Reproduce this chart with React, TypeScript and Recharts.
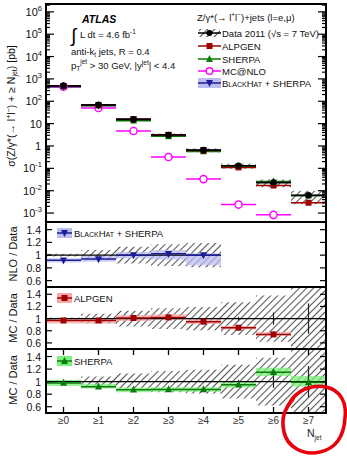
import React from 'react';
import { ComposedChart, Scatter, XAxis, YAxis, ErrorBar, ReferenceArea } from 'recharts';

const FONT = '"Liberation Sans", Arial, Helvetica, sans-serif';
const W = 347;
const H = 456;
const PL = 46;
const PR = 326;

// jet multiplicity bins
const NJET = [0, 1, 2, 3, 4, 5, 6, 7];
const NJET_LABELS = ['≥0', '≥1', '≥2', '≥3', '≥4', '≥5', '≥6', '≥7'];

// cross sections [pb]
const DATA_XS = [490, 69, 15.5, 3.1, 0.65, 0.13, 0.023, 0.0062];
const DATA_SYST = [0.02, 0.08, 0.13, 0.17, 0.19, 0.27, 0.38, 0.6];
const DATA_STAT = [0, 0, 0, 0, 0.01, 0.03, 0.1, 0.25];
const ALPGEN_XS = [475, 67, 15.6, 3.15, 0.62, 0.11, 0.017, 0.0029];
const SHERPA_XS = [480, 63, 13.5, 2.7, 0.57, 0.124, 0.026, 0.0061];
const MCNLO_XS = [450, 50, 4.7, 0.32, 0.033, 0.0024, 0.00083, null];
const MCNLO_ERR = [0, 0, 0, 0, 0, 0.0009, 0.0003, null];
const BLACKHAT_XS = [450, 65, 15.5, 3.15, 0.65, null, null, null];

// theory / data
const BLACKHAT_RATIO = [0.92, 0.94, 1.0, 1.02, 1.0];
const BLACKHAT_LO = [0.885, 0.895, 0.95, 0.93, 0.84];
const BLACKHAT_HI = [0.95, 0.985, 1.05, 1.08, 1.035];
const ALPGEN_RATIO = [0.97, 0.97, 1.01, 1.02, 0.95, 0.85, 0.74];
const ALPGEN_LO = [0.92, 0.92, 0.96, 0.98, 0.91, 0.82, 0.72];
const ALPGEN_HI = [1.01, 1.0, 1.06, 1.07, 0.99, 0.88, 0.78];
const SHERPA_RATIO = [0.98, 0.92, 0.87, 0.875, 0.875, 0.95, 1.15, 0.99];
const SHERPA_LO = [0.93, 0.89, 0.83, 0.84, 0.84, 0.905, 1.09, 0.92];
const SHERPA_HI = [1.03, 0.965, 0.905, 0.91, 0.91, 0.99, 1.22, 1.09];

const DECADES = [-3, -2, -1, 0, 1, 2, 3, 4, 5, 6];
const MINORS = [1, 2, 3, 4, 5, 6, 7, 8, 9];
const LOG_MIN = Math.pow(10, -3.4);
const LOG_MAX = Math.pow(10, 6.35);
const LOG_TICKS = DECADES.flatMap((d) => MINORS.map((m) => m * Math.pow(10, d))).filter((v) => v >= LOG_MIN && v <= LOG_MAX);
const RATIO_TICKS = [0.6, 0.8, 1, 1.2, 1.4];
const RATIO_DOMAIN = [0.5, 1.52];

const C_ALPGEN = '#a00000';
const C_ALPGEN_BAND = '#f6a8a8';
const C_SHERPA = '#0a7a0a';
const C_SHERPA_BAND = '#7cf07c';
const C_BH = '#1c1c96';
const C_BH_BAND = '#bcbcf2';
const C_MCNLO = '#ff00ff';

const PANELS = [
  { top: 222, bottom: 287 },
  { top: 287, bottom: 349 },
  { top: 349, bottom: 413 },
];

const pts = (ys: (number | null)[], ey?: (number | null)[]) =>
  NJET.map((x, i) => ({ x, y: ys[i], ex: 0.5, ey: ey ? ey[i] ?? 0 : 0 })).filter((p) => p.y != null);

const dot = (r: number, fill: string) => (p: any) => <circle cx={p.cx} cy={p.cy} r={r} fill={fill} />;
const openDot = (r: number, stroke: string) => (p: any) => (
  <circle cx={p.cx} cy={p.cy} r={r} fill="#fff" stroke={stroke} strokeWidth={1.4} />
);
const square = (s: number, fill: string) => (p: any) => (
  <rect x={p.cx - s / 2} y={p.cy - s / 2} width={s} height={s} fill={fill} />
);
const triUp = (s: number, fill: string) => (p: any) => (
  <polygon points={`${p.cx},${p.cy - s * 0.6} ${p.cx - s / 2},${p.cy + s * 0.4} ${p.cx + s / 2},${p.cy + s * 0.4}`} fill={fill} />
);
const triDown = (s: number, fill: string) => (p: any) => (
  <polygon points={`${p.cx},${p.cy + s * 0.6} ${p.cx - s / 2},${p.cy - s * 0.4} ${p.cx + s / 2},${p.cy - s * 0.4}`} fill={fill} />
);
const noShape = () => <g />;

const xTick = (plotTop: number, labels: boolean) => (p: any) => (
  <g>
    <line x1={p.x} x2={p.x} y1={p.y} y2={p.y - 6} stroke="#000" strokeWidth={1.3} />
    <line x1={p.x} x2={p.x} y1={plotTop} y2={plotTop + 6} stroke="#000" strokeWidth={1.3} />
    {labels && (
      <text x={p.x} y={p.y + 11} textAnchor="middle" fontSize={10} fill="#333" fontFamily={FONT}>
        {NJET_LABELS[p.payload.value]}
      </text>
    )}
  </g>
);

const logTick = (p: any) => {
  const v = p.payload.value;
  const e = Math.round(Math.log10(v));
  const major = Math.abs(Math.log10(v) - e) < 1e-6;
  const len = major ? 8 : 4;
  return (
    <g>
      <line x1={p.x} x2={p.x + len} y1={p.y} y2={p.y} stroke="#000" strokeWidth={1.2} />
      <line x1={PR} x2={PR - len} y1={p.y} y2={p.y} stroke="#000" strokeWidth={1.2} />
      {major && (
        <text x={e === 0 ? p.x - 5 : p.x - 4} y={p.y + 4} textAnchor="end" fontSize={11} fontFamily={FONT} fill="#111">
          {e === 0 ? '1' : '10'}
          {e !== 0 && e !== 1 && (
            <tspan dy={-5} fontSize={7.5}>{e}</tspan>
          )}
        </text>
      )}
    </g>
  );
};

const ratioTick = (p: any) => (
  <g>
    <line x1={p.x} x2={p.x + 6} y1={p.y} y2={p.y} stroke="#000" strokeWidth={1.2} />
    <line x1={PR} x2={PR - 6} y1={p.y} y2={p.y} stroke="#000" strokeWidth={1.2} />
    <text x={p.x - 5} y={p.y + 4} textAnchor="end" fontSize={10.5} fontFamily={FONT} fill="#111">
      {p.payload.value === 1 ? '1' : p.payload.value.toFixed(1)}
    </text>
  </g>
);

function MainPanel() {
  return (
    <div style={{ position: 'absolute', left: 0, top: 0 }}>
      <ComposedChart width={W} height={222} margin={{ top: 4, right: W - PR, bottom: 0, left: 0 }}>
        <XAxis type="number" dataKey="x" domain={[-0.5, 7.5]} ticks={NJET} allowDataOverflow height={0}
          axisLine={false} tickLine={false} tickSize={0} tickMargin={0} interval={0} tick={xTick(4, false)} />
        <YAxis type="number" scale="log" domain={[LOG_MIN, LOG_MAX]} allowDataOverflow ticks={LOG_TICKS} width={PL}
          axisLine={false} tickLine={false} tickSize={0} tickMargin={0} interval={0} tick={logTick} />
        {DATA_XS.map((v, i) => (
          <ReferenceArea key={i} x1={NJET[i] - 0.5} x2={NJET[i] + 0.5} y1={v * (1 - DATA_SYST[i])} y2={v * (1 + DATA_SYST[i])}
            fill="url(#hatch)" fillOpacity={1} stroke="none" ifOverflow="hidden" />
        ))}
        <Scatter data={pts(MCNLO_XS, MCNLO_ERR)} dataKey="y" shape={openDot(3.6, C_MCNLO)} isAnimationActive={false}>
          <ErrorBar dataKey="ex" direction="x" width={0} stroke={C_MCNLO} strokeWidth={1.5} />
          <ErrorBar dataKey="ey" direction="y" width={0} stroke={C_MCNLO} strokeWidth={1.5} />
        </Scatter>
        <Scatter data={pts(BLACKHAT_XS)} dataKey="y" shape={triDown(7, C_BH)} isAnimationActive={false}>
          <ErrorBar dataKey="ex" direction="x" width={0} stroke={C_BH} strokeWidth={1.5} />
        </Scatter>
        <Scatter data={pts(SHERPA_XS)} dataKey="y" shape={triUp(7, C_SHERPA)} isAnimationActive={false}>
          <ErrorBar dataKey="ex" direction="x" width={0} stroke={C_SHERPA} strokeWidth={1.5} />
        </Scatter>
        <Scatter data={pts(ALPGEN_XS)} dataKey="y" shape={square(6, C_ALPGEN)} isAnimationActive={false}>
          <ErrorBar dataKey="ex" direction="x" width={0} stroke={C_ALPGEN} strokeWidth={1.5} />
        </Scatter>
        <Scatter data={pts(DATA_XS)} dataKey="y" shape={dot(3.3, '#000')} isAnimationActive={false}>
          <ErrorBar dataKey="ex" direction="x" width={0} stroke="#000" strokeWidth={1.6} />
        </Scatter>
      </ComposedChart>
    </div>
  );
}

function RatioPanel({ top, bottom, ratio, lo, hi, band, color, shape, nData, stat, labels }: any) {
  const axisH = labels ? H - bottom : 0;
  const dataLine = NJET.slice(0, nData).map((x, i) => ({ x, y: 1, ex: 0.5, ey: stat ? DATA_STAT[i] : 0 }));
  return (
    <div style={{ position: 'absolute', left: 0, top }}>
      <ComposedChart width={W} height={bottom - top + axisH} margin={{ top: 0, right: W - PR, bottom: 0, left: 0 }}>
        <XAxis type="number" dataKey="x" domain={[-0.5, 7.5]} ticks={NJET} allowDataOverflow height={axisH}
          axisLine={false} tickLine={false} tickSize={0} tickMargin={0} interval={0} tick={xTick(0, labels)} />
        <YAxis type="number" domain={RATIO_DOMAIN} allowDataOverflow ticks={RATIO_TICKS} width={PL}
          axisLine={false} tickLine={false} tickSize={0} tickMargin={0} interval={0} tick={ratioTick} />
        {DATA_SYST.slice(0, nData).map((s, i) => (
          <ReferenceArea key={'h' + i} x1={NJET[i] - 0.5} x2={NJET[i] + 0.5} y1={1 - s} y2={1 + s}
            fill="url(#hatch)" fillOpacity={1} stroke="none" ifOverflow="hidden" />
        ))}
        {ratio.map((_: number, i: number) => (
          <ReferenceArea key={'b' + i} x1={NJET[i] - 0.5} x2={NJET[i] + 0.5} y1={lo[i]} y2={hi[i]}
            fill={band} fillOpacity={0.75} stroke="none" ifOverflow="hidden" />
        ))}
        <Scatter data={dataLine} dataKey="y" shape={noShape} isAnimationActive={false}>
          <ErrorBar dataKey="ex" direction="x" width={0} stroke="#000" strokeWidth={1.4} />
          <ErrorBar dataKey="ey" direction="y" width={0} stroke="#222" strokeWidth={1.2} />
        </Scatter>
        <Scatter data={pts(ratio)} dataKey="y" shape={shape} isAnimationActive={false}>
          <ErrorBar dataKey="ex" direction="x" width={0} stroke={color} strokeWidth={1.5} />
        </Scatter>
      </ComposedChart>
    </div>
  );
}

const BlackHatText = ({ x, y, size }: any) => (
  <text x={x} y={y} fontSize={size} fill="#111">
    B<tspan fontSize={size * 0.74}>LACK</tspan>H<tspan fontSize={size * 0.74}>AT</tspan> + SHERPA
  </text>
);

const LEGEND = [
  { label: 'ALPGEN', y: 46, color: C_ALPGEN, kind: 'square' },
  { label: 'SHERPA', y: 59, color: C_SHERPA, kind: 'tri' },
  { label: 'MC@NLO', y: 71, color: C_MCNLO, kind: 'open' },
];

function Overlay() {
  const frames = [{ top: 4, bottom: 222 }, ...PANELS];
  return (
    <svg width={W} height={H} style={{ position: 'absolute', left: 0, top: 0, pointerEvents: 'none' }} fontFamily={FONT}>
      <defs>
        <pattern id="hatch" width={5} height={5} patternUnits="userSpaceOnUse" patternTransform="rotate(45)">
          <line x1={2.5} y1={0} x2={2.5} y2={5} stroke="#555" strokeWidth={1.1} />
        </pattern>
      </defs>
      {frames.map((f, i) => (
        <rect key={i} x={PL} y={f.top} width={PR - PL} height={f.bottom - f.top} fill="none" stroke="#000" strokeWidth={2} />
      ))}

      {/* y titles */}
      <text transform="translate(15,106) rotate(-90)" textAnchor="middle" fontSize={10.5} fill="#111">
        σ(Z/γ*(→ l<tspan dy={-4} fontSize={7}>+</tspan><tspan dy={4}>l</tspan><tspan dy={-4} fontSize={7}>−</tspan>
        <tspan dy={4}>) + ≥ N</tspan><tspan dy={2} fontSize={7}>jet</tspan><tspan dy={-2}>) [pb]</tspan>
      </text>
      <text transform="translate(17,254) rotate(-90)" textAnchor="middle" fontSize={11} fill="#111">NLO / Data</text>
      <text transform="translate(17,318) rotate(-90)" textAnchor="middle" fontSize={11} fill="#111">MC / Data</text>
      <text transform="translate(17,380) rotate(-90)" textAnchor="middle" fontSize={11} fill="#111">MC / Data</text>

      {/* ATLAS label */}
      <text x={82} y={23} fontSize={10.5} fontWeight="bold" fontStyle="italic" fill="#000">ATLAS</text>
      <text x={71} y={42} fontSize={19} fill="#000">∫</text>
      <text x={80} y={38} fontSize={9.5} fill="#111">
        L dt = 4.6 fb<tspan dy={-4} fontSize={6.5}>-1</tspan>
      </text>
      <text x={71} y={55} fontSize={9.5} fill="#111">
        anti-k<tspan dy={2} fontSize={6.5}>t</tspan><tspan dy={-2}> jets, R = 0.4</tspan>
      </text>
      <text x={71} y={69} fontSize={9.5} fill="#111">
        p<tspan dy={2} fontSize={6.5}>T</tspan><tspan dy={-7} fontSize={6.5}>jet</tspan>
        <tspan dy={5}> &gt; 30 GeV, |y</tspan><tspan dy={-4} fontSize={6.5}>jet</tspan><tspan dy={4}>| &lt; 4.4</tspan>
      </text>

      {/* main legend */}
      <text x={197} y={21} fontSize={9.5} fill="#111">
        Z/γ*(→ l<tspan dy={-4} fontSize={6.5}>+</tspan><tspan dy={4}>l</tspan><tspan dy={-4} fontSize={6.5}>−</tspan>
        <tspan dy={4}>)+jets (l=e,μ)</tspan>
      </text>
      <rect x={199} y={29} width={21} height={8} fill="url(#hatch)" />
      <line x1={198} x2={221} y1={33} y2={33} stroke="#000" strokeWidth={1.5} />
      <circle cx={209.5} cy={33} r={3} fill="#000" />
      <text x={222} y={37} fontSize={9.5} fill="#111">Data 2011 (√s = 7 TeV)</text>
      {LEGEND.map((l) => (
        <g key={l.label}>
          <line x1={198} x2={221} y1={l.y} y2={l.y} stroke={l.color} strokeWidth={1.5} />
          {l.kind === 'square' && <rect x={206.5} y={l.y - 3} width={6} height={6} fill={l.color} />}
          {l.kind === 'tri' && <polygon points={`209.5,${l.y - 4} 206,${l.y + 3} 213,${l.y + 3}`} fill={l.color} />}
          {l.kind === 'open' && <circle cx={209.5} cy={l.y} r={3.3} fill="#fff" stroke={l.color} strokeWidth={1.4} />}
          <text x={222} y={l.y + 4} fontSize={9.5} fill="#111">{l.label}</text>
        </g>
      ))}
      <rect x={198} y={78} width={23} height={10} fill={C_BH_BAND} />
      <line x1={198} x2={221} y1={83} y2={83} stroke={C_BH} strokeWidth={1.5} />
      <polygon points={`209.5,87 206,80 213,80`} fill={C_BH} />
      <BlackHatText x={222} y={87} size={9.5} />

      {/* ratio legends */}
      <rect x={57} y={228} width={15} height={10} fill={C_BH_BAND} />
      <line x1={57} x2={72} y1={233} y2={233} stroke={C_BH} strokeWidth={1.5} />
      <polygon points={`64.5,237 61,230 68,230`} fill={C_BH} />
      <BlackHatText x={74} y={237} size={9.5} />
      <rect x={57} y={293} width={15} height={10} fill={C_ALPGEN_BAND} />
      <line x1={57} x2={72} y1={298} y2={298} stroke={C_ALPGEN} strokeWidth={1.5} />
      <rect x={61.5} y={295} width={6} height={6} fill={C_ALPGEN} />
      <text x={74} y={302} fontSize={9.5} fill="#111">ALPGEN</text>
      <rect x={57} y={356} width={15} height={10} fill={C_SHERPA_BAND} />
      <line x1={57} x2={72} y1={361} y2={361} stroke={C_SHERPA} strokeWidth={1.5} />
      <polygon points={`64.5,357 61,364 68,364`} fill={C_SHERPA} />
      <text x={74} y={365} fontSize={9.5} fill="#111">SHERPA</text>

      {/* x title */}
      <text x={307} y={437} fontSize={10.5} fill="#222">
        N<tspan dy={3} fontSize={6.5}>jet</tspan>
      </text>

      {/* hand-drawn highlight */}
      <path d="M 289 404 C 296 390, 312 384, 326 387 C 340 390, 347 402, 345 418 C 344 434, 338 448, 320 452 C 302 456, 287 446, 284 432 C 281 418, 284 410, 293 399"
        fill="none" stroke="#e8000b" strokeWidth={3.6} strokeLinecap="round" />
    </svg>
  );
}

export default function App() {
  return (
    <div style={{ position: 'absolute', left: 0, top: 0, width: W, height: H, background: '#fff', fontFamily: FONT }}>
      <MainPanel />
      <RatioPanel top={222} bottom={287} ratio={BLACKHAT_RATIO} lo={BLACKHAT_LO} hi={BLACKHAT_HI}
        band={C_BH_BAND} color={C_BH} shape={triDown(7, C_BH)} nData={5} stat={false} labels={false} />
      <RatioPanel top={287} bottom={349} ratio={ALPGEN_RATIO} lo={ALPGEN_LO} hi={ALPGEN_HI}
        band={C_ALPGEN_BAND} color={C_ALPGEN} shape={square(6, C_ALPGEN)} nData={8} stat={true} labels={false} />
      <RatioPanel top={349} bottom={413} ratio={SHERPA_RATIO} lo={SHERPA_LO} hi={SHERPA_HI}
        band={C_SHERPA_BAND} color={C_SHERPA} shape={triUp(7, C_SHERPA)} nData={8} stat={true} labels={true} />
      <Overlay />
    </div>
  );
}
